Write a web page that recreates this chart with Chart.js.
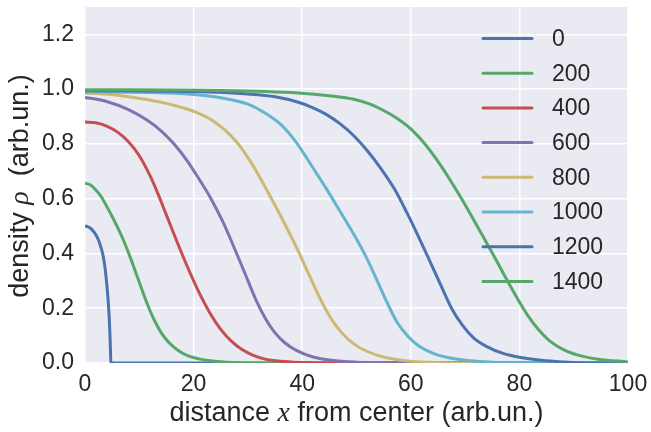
<!DOCTYPE html>
<html>
<head>
<meta charset="utf-8">
<script src="https://cdn.jsdelivr.net/npm/chart.js@4.4.0/dist/chart.umd.min.js"></script>
<style>
  body { margin: 0; background: #fff; }
  #wrap { width: 651px; height: 432px; }
</style>
</head>
<body>
<div id="wrap"><canvas id="densityChart"></canvas></div>
<script>
// snapshot times (legend) and line colours
const times = ['0', '200', '400', '600', '800', '1000', '1200', '1400'];
const colors = ['#4C72B0', '#55A868', '#C44E52', '#8172B2', '#CCB974', '#64B5CD', '#4C72B0', '#55A868'];

// density profiles: distance x -> rho
const x0 = [0, 0.5, 1, 1.5, 2, 2.5, 3, 3.3, 3.6, 3.9, 4.2, 4.45, 4.6, 4.7, 4.75, 100];
const rho0 = [0.5, 0.498, 0.492, 0.482, 0.468, 0.448, 0.418, 0.395, 0.36, 0.31, 0.245, 0.17, 0.1, 0.04, 0, 0];

const x200 = [0, 1, 2, 3, 4, 5, 6, 7, 8, 9, 10, 11, 12, 13, 14, 15, 16, 17.5, 19, 21, 23, 26, 30, 100];
const rho200 = [0.657, 0.65, 0.632, 0.607, 0.572, 0.535, 0.495, 0.452, 0.403, 0.35, 0.295, 0.24, 0.19, 0.147,
                0.112, 0.085, 0.064, 0.041, 0.026, 0.015, 0.008, 0.003, 0, 0];

const x400 = [0, 2, 4, 6, 8, 10, 12, 13.5, 15, 17, 19, 21, 23, 25, 27, 29, 31, 33, 36, 40, 44, 100];
const rho400 = [0.88, 0.877, 0.865, 0.843, 0.808, 0.757, 0.683, 0.615, 0.54, 0.44, 0.345, 0.258, 0.183,
                0.123, 0.079, 0.048, 0.028, 0.015, 0.006, 0.0015, 0, 0];

const x600 = [0, 4, 8, 11.4, 14, 16.4, 18.7, 21, 23.2, 25.4, 27.5, 29.5, 31.5, 33.3, 35, 36.8, 39, 42, 45.4, 50, 55, 100];
const rho600 = [0.97, 0.955, 0.925, 0.887, 0.848, 0.8, 0.742, 0.672, 0.6, 0.515, 0.42, 0.325, 0.23, 0.16,
                0.11, 0.074, 0.045, 0.022, 0.01, 0.003, 0, 0];

const x800 = [0, 6, 11.4, 15, 17.5, 20.5, 23.6, 25.8, 28, 30, 32, 34.2, 36.6, 39, 41.2, 43.3, 45.3, 47.3,
              49.5, 52, 55, 58, 61, 66, 70, 100];
const rho800 = [0.986, 0.978, 0.962, 0.948, 0.935, 0.915, 0.884, 0.85, 0.805, 0.75, 0.685, 0.605, 0.515,
                0.42, 0.325, 0.235, 0.163, 0.11, 0.07, 0.042, 0.022, 0.011, 0.005, 0.001, 0, 0];

const x1000 = [0, 12, 17.5, 22, 26, 30, 33, 36, 39, 42, 44.5, 47, 49.5, 51.7, 53.7, 55.6, 57.5, 59.5,
               61.5, 64, 67, 71, 75, 80, 100];
const rho1000 = [0.99, 0.988, 0.984, 0.977, 0.965, 0.945, 0.915, 0.872, 0.803, 0.712, 0.635, 0.553, 0.47,
                 0.39, 0.305, 0.222, 0.148, 0.097, 0.062, 0.036, 0.019, 0.008, 0.003, 0, 0];

const x1200 = [0, 20, 30, 35, 39.3, 42, 44.5, 47, 49.5, 52, 54.5, 57, 59.3, 61.5, 63.5, 65.5, 67.5, 69.5,
               71.5, 74, 77, 80, 84, 88, 93, 100];
const rho1200 = [0.995, 0.991, 0.982, 0.972, 0.952, 0.932, 0.907, 0.873, 0.83, 0.775, 0.71, 0.635, 0.548,
                 0.458, 0.372, 0.285, 0.2, 0.138, 0.093, 0.06, 0.035, 0.021, 0.01, 0.004, 0, 0];

const x1400 = [0, 25, 39.3, 45, 49.7, 52.5, 55, 57.5, 60, 62.6, 65, 67.5, 70, 72.5, 75, 77.3, 79.5, 81.5,
               83.5, 85.5, 88, 91, 94.5, 100];
const rho1400 = [0.998, 0.995, 0.986, 0.976, 0.962, 0.945, 0.922, 0.893, 0.855, 0.8, 0.736, 0.66, 0.578,
                 0.49, 0.402, 0.318, 0.24, 0.175, 0.122, 0.082, 0.05, 0.028, 0.014, 0.004];

const xTicks = [0, 20, 40, 60, 80, 100];
const yTicks = [0, 0.2, 0.4, 0.6, 0.8, 1.0, 1.2];

const profiles = [[x0, rho0], [x200, rho200], [x400, rho400], [x600, rho600],
                  [x800, rho800], [x1000, rho1000], [x1200, rho1200], [x1400, rho1400]];

const textColor = '#262626';
const sans = "'Liberation Sans', Arial, sans-serif";
const titleFont = "27px 'Liberation Sans', Arial, sans-serif";
const mathFont = "italic 28px 'Liberation Serif', serif";

// grey seaborn-like plot background
const plotBackground = {
    id: 'plotBackground',
    beforeDraw(chart) {
        const { ctx, chartArea: a } = chart;
        ctx.save();
        ctx.fillStyle = '#EAEAF2';
        ctx.fillRect(a.left, a.top, a.right - a.left, a.bottom - a.top);
        ctx.restore();
    }
};

// text made of pieces in different fonts (for the math x and rho)
function drawParts(ctx, parts, cx, cy, rotate) {
    let total = 0;
    parts.forEach(p => { ctx.font = p.font; p.w = ctx.measureText(p.text).width; total += p.w; });
    ctx.save();
    ctx.translate(cx, cy);
    if (rotate) ctx.rotate(-Math.PI / 2);
    ctx.fillStyle = textColor;
    ctx.textAlign = 'left';
    ctx.textBaseline = 'alphabetic';
    let x = -total / 2;
    parts.forEach(p => { ctx.font = p.font; ctx.fillText(p.text, x, 0); x += p.w; });
    ctx.restore();
}

const axisTitles = {
    id: 'axisTitles',
    afterDraw(chart) {
        const { ctx, chartArea: a } = chart;
        drawParts(ctx, [
            { text: 'distance ', font: titleFont },
            { text: 'x', font: mathFont },
            { text: ' from center (arb.un.)', font: titleFont }
        ], (a.left + a.right) / 2, 421, false);
        drawParts(ctx, [
            { text: 'density ', font: titleFont },
            { text: 'ρ', font: mathFont },
            { text: '  (arb.un.)', font: titleFont }
        ], 28, (a.top + a.bottom) / 2 + 1, true);
    }
};

// legend without frame inside the upper right of the plot
const insideLegend = {
    id: 'insideLegend',
    afterDatasetsDraw(chart) {
        const ctx = chart.ctx;
        ctx.save();
        ctx.font = '23px ' + sans;
        ctx.textBaseline = 'middle';
        ctx.textAlign = 'left';
        chart.data.datasets.forEach((ds, i) => {
            const y = 38.5 + 34.7 * i;
            ctx.strokeStyle = ds.borderColor;
            ctx.lineWidth = 3;
            ctx.lineCap = 'round';
            ctx.beginPath();
            ctx.moveTo(483, y);
            ctx.lineTo(532, y);
            ctx.stroke();
            ctx.fillStyle = textColor;
            ctx.fillText(ds.label, 552, y + 1);
        });
        ctx.restore();
    }
};

const noPadding = s => { s.paddingLeft = 0; s.paddingRight = 0; s.paddingTop = 0; s.paddingBottom = 0; };

const datasets = profiles.map((p, i) => ({
    label: times[i],
    data: p[0].map((x, k) => ({ x: x, y: p[1][k] })),
    borderColor: colors[i],
    backgroundColor: colors[i],
    borderWidth: 3,
    pointRadius: 0,
    cubicInterpolationMode: 'monotone',
    fill: false,
    order: -i
}));

const ctx = document.getElementById('densityChart').getContext('2d');
const densityChart = new Chart(ctx, {
    type: 'line',
    data: { datasets: datasets },
    options: {
        responsive: true,
        maintainAspectRatio: false,
        animation: false,
        layout: { padding: { top: 7, right: 23, left: 0, bottom: 0 } },
        plugins: {
            legend: { display: false },
            tooltip: { enabled: false }
        },
        scales: {
            x: {
                type: 'linear',
                min: 0,
                max: 100,
                afterBuildTicks: s => { s.ticks = xTicks.map(v => ({ value: v })); },
                afterFit: s => { s.height = 69; noPadding(s); },
                grid: { color: '#ffffff', lineWidth: 1.5, drawTicks: false },
                border: { display: false },
                ticks: {
                    color: textColor,
                    font: { family: sans, size: 23 },
                    padding: 8,
                    maxRotation: 0
                }
            },
            y: {
                min: 0,
                max: 1.3,
                afterBuildTicks: s => { s.ticks = yTicks.map(v => ({ value: v })); },
                afterFit: s => { s.width = 85; noPadding(s); },
                grid: { color: '#ffffff', lineWidth: 1.5, drawTicks: false },
                border: { display: false },
                ticks: {
                    color: textColor,
                    font: { family: sans, size: 23 },
                    padding: 11,
                    callback: v => v.toFixed(1)
                }
            }
        }
    },
    plugins: [plotBackground, axisTitles, insideLegend]
});
</script>
</body>
</html>
